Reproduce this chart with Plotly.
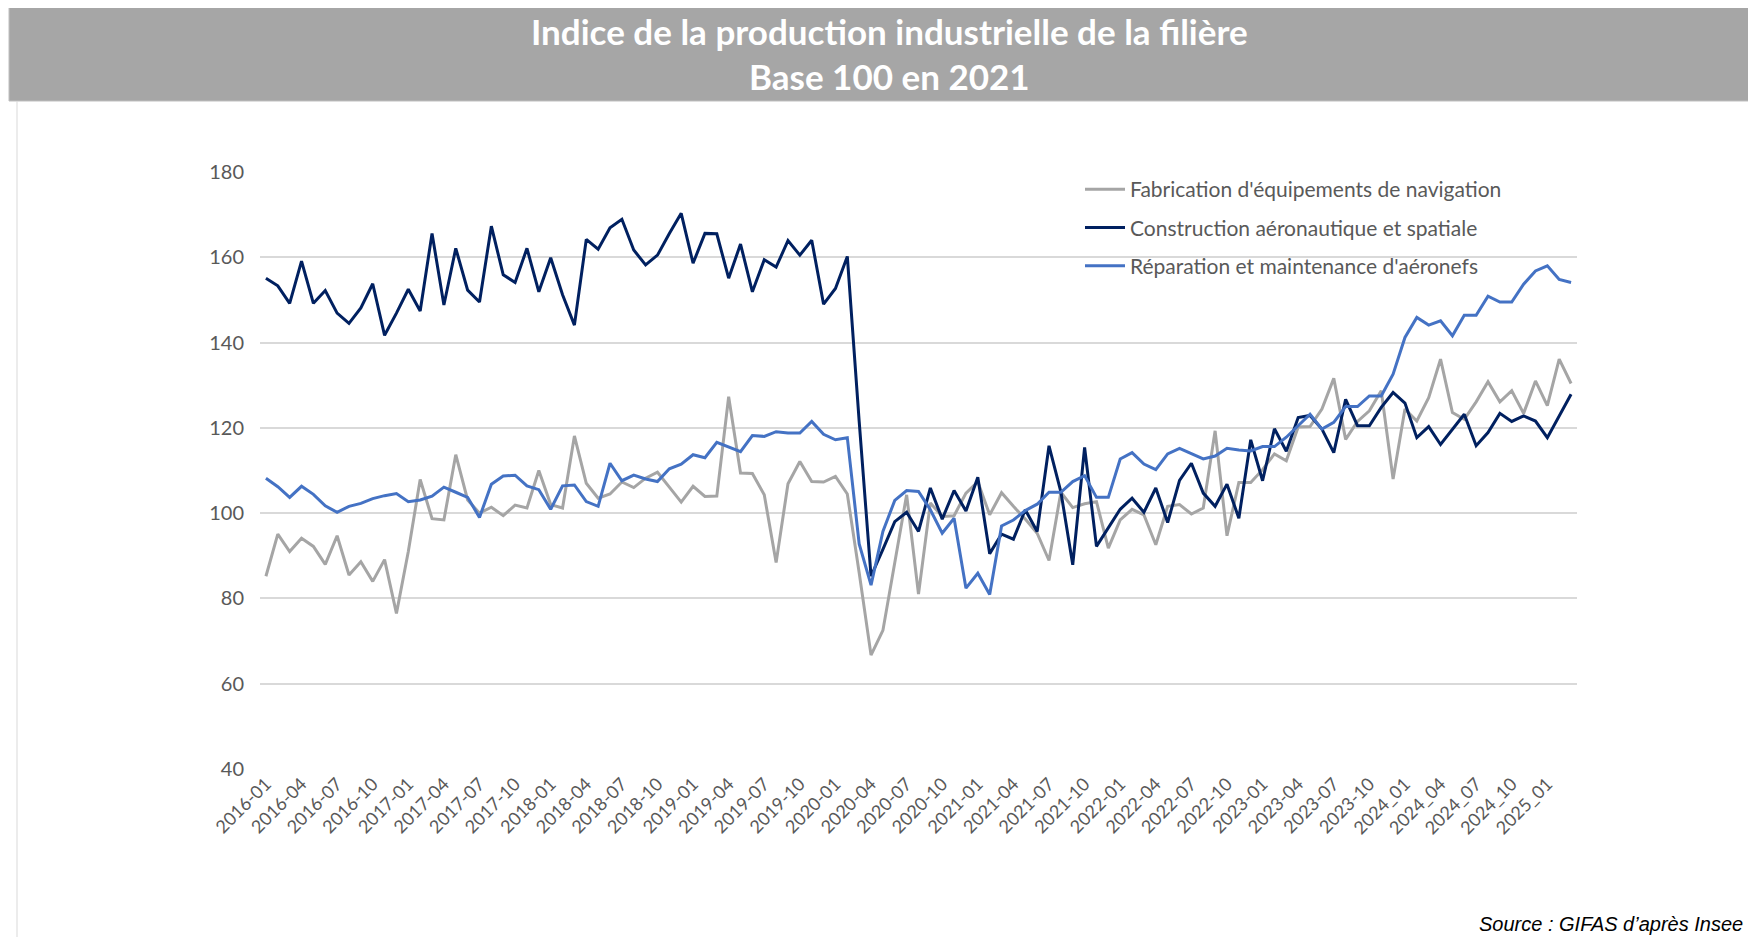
import plotly.graph_objects as go

TITLE_LINE1 = "Indice de la production industrielle de la filière"
TITLE_LINE2 = "Base 100 en 2021"
SOURCE = "Source : GIFAS d’après Insee"

SERIES_NAMES = [
    "Fabrication d'équipements de navigation",
    "Construction aéronautique et spatiale",
    "Réparation et maintenance d'aéronefs",
]

# Monthly categories 2016-01 .. 2025-03
MONTHS = [f"{2016 + i // 12}-{i % 12 + 1:02d}" for i in range(111)]

TICK_LABELS = [
    "2016-01", "2016-04", "2016-07", "2016-10",
    "2017-01", "2017-04", "2017-07", "2017-10",
    "2018-01", "2018-04", "2018-07", "2018-10",
    "2019-01", "2019-04", "2019-07", "2019-10",
    "2020-01", "2020-04", "2020-07", "2020-10",
    "2021-01", "2021-04", "2021-07", "2021-10",
    "2022-01", "2022-04", "2022-07", "2022-10",
    "2023-01", "2023-04", "2023-07", "2023-10",
    "2024_01", "2024_04", "2024_07", "2024_10",
    "2025_01",
]

fabrication = [
    85.2, 95.1, 91.0, 94.1, 92.2, 88.0, 94.7, 85.5, 88.6, 84.0, 89.1, 76.5,
    91.0, 107.9, 98.7, 98.4, 113.7, 103.1, 100.0, 101.4, 99.4, 101.9, 101.2, 110.0,
    102.0, 101.2, 118.1, 107.0, 103.5, 104.5, 107.3, 106.0, 108.2, 109.6, 106.1, 102.6,
    106.3, 103.9, 104.0, 127.3, 109.4, 109.3, 104.3, 88.4, 106.9, 112.1, 107.4, 107.3,
    108.6, 104.5, 86.0, 66.7, 72.5, 88.4, 104.3, 81.0, 102.4, 99.2, 99.4, 104.7,
    107.4, 99.6, 104.8, 101.6, 98.6, 95.3, 88.9, 104.9, 101.3, 102.2, 102.7, 91.8,
    98.4, 100.9, 99.6, 92.6, 101.6, 102.0, 99.8, 101.2, 119.3, 94.7, 107.2, 107.2,
    110.2, 113.9, 112.3, 120.2, 120.3, 124.4, 131.6, 117.3, 121.5, 124.0, 128.7, 108.0,
    124.4, 121.6, 127.1, 136.1, 123.6, 122.0, 126.1, 130.8, 126.1, 128.7, 123.4, 131.0,
    125.2, 136.1, 130.4,
]

construction = [
    155.1, 153.3, 149.2, 159.1, 149.2, 152.2, 146.9, 144.5, 148.1, 153.8, 141.7, 146.9,
    152.5, 147.4, 165.6, 148.8, 162.1, 152.3, 149.5, 167.3, 155.9, 154.1, 162.1, 151.9,
    159.9, 151.2, 144.1, 164.2, 161.9, 166.9, 168.9, 161.7, 158.2, 160.5, 165.6, 170.3,
    158.6, 165.6, 165.5, 155.1, 163.1, 151.9, 159.4, 157.7, 163.9, 160.5, 164.0, 149.0,
    152.7, 160.2, 121.5, 85.2, 91.5, 98.0, 100.2, 95.7, 105.9, 98.6, 105.3, 100.5,
    108.4, 90.5, 95.1, 93.9, 100.8, 95.7, 115.8, 105.0, 87.9, 115.4, 92.2, 96.6,
    100.9, 103.5, 100.2, 105.9, 97.8, 107.7, 111.7, 104.7, 101.6, 106.8, 98.8, 117.2,
    107.6, 119.8, 114.5, 122.4, 122.9, 119.7, 114.2, 126.7, 120.5, 120.5, 124.8, 128.3,
    125.8, 117.7, 120.3, 116.1, 119.7, 123.2, 115.8, 118.9, 123.4, 121.5, 122.8, 121.6,
    117.7, 122.8, 127.9,
]

reparation = [
    108.2, 106.2, 103.7, 106.3, 104.4, 101.7, 100.2, 101.6, 102.3, 103.4, 104.1, 104.6,
    102.7, 103.1, 104.0, 106.1, 104.9, 103.7, 99.0, 106.8, 108.7, 108.9, 106.4, 105.5,
    100.9, 106.4, 106.6, 102.7, 101.6, 111.7, 107.6, 108.9, 108.0, 107.4, 110.4, 111.5,
    113.7, 113.0, 116.6, 115.5, 114.4, 118.2, 118.0, 119.1, 118.8, 118.8, 121.5, 118.5,
    117.2, 117.7, 92.8, 83.1, 95.7, 103.0, 105.3, 105.1, 100.8, 95.3, 98.8, 82.4,
    85.9, 80.9, 97.0, 98.4, 100.6, 102.1, 104.9, 104.9, 107.4, 108.8, 103.7, 103.7,
    112.7, 114.2, 111.5, 110.2, 113.9, 115.2, 113.9, 112.7, 113.4, 115.2, 114.8, 114.6,
    115.6, 115.6, 117.8, 120.5, 123.2, 119.7, 121.3, 125.0, 125.0, 127.5, 127.5, 132.6,
    141.2, 145.9, 144.1, 145.1, 141.6, 146.4, 146.4, 150.9, 149.5, 149.5, 153.7, 156.8,
    158.0, 154.8, 154.1,
]

COLORS = ["#a5a5a5", "#002060", "#4472c4"]
FONT = "Lato"
TXT = "#595959"

OFF = 8  # page body offset
W, H = 1756 - 2 * OFF, 947 - 2 * OFF - 2
# desired page-pixel edges of plot area
PX0, PX1, PY0, PY1 = 260, 1577, 172, 769
L, R, T, B = PX0 - OFF, W - (PX1 - OFF), PY0 - OFF, H - (PY1 - OFF)
PW, PH = W - L - R, H - T - B


def px(x):
    return (x - OFF - L) / PW


def py(y):
    return 1 - (y - OFF - T) / PH


fig = go.Figure()
for i, (name, vals) in enumerate(zip(SERIES_NAMES, [fabrication, construction, reparation])):
    fig.add_trace(go.Scatter(
        x=MONTHS, y=vals, name=name, mode="lines",
        line=dict(color=COLORS[i], width=3),
        legendgroup=f"g{i}",
    ))

fig.update_layout(
    width=W, height=H, autosize=False,
    margin=dict(l=L, r=R, t=T, b=B, pad=0),
    paper_bgcolor="white", plot_bgcolor="white",
    font=dict(family=FONT, color=TXT),
    showlegend=True,
    legend=dict(
        x=px(1080), y=py(169),
        xanchor="left", yanchor="top",
        font=dict(size=21, color=TXT, family=FONT),
        bgcolor="rgba(0,0,0,0)",
        tracegroupgap=8,
        itemwidth=40,
    ),
    xaxis=dict(
        type="category",
        tickmode="array",
        tickvals=MONTHS[::3],
        ticktext=TICK_LABELS,
        tickangle=-45,
        tickfont=dict(size=18, color=TXT, family=FONT),
        showgrid=False, zeroline=False, showline=False,
        ticks="",
        range=[-0.5, len(MONTHS) - 0.5],
    ),
    yaxis=dict(
        range=[40, 180],
        tickvals=[40, 60, 80, 100, 120, 140, 160, 180],
        tickfont=dict(size=20, color=TXT, family=FONT),
        showgrid=True, gridcolor="#d9d9d9", gridwidth=1.5,
        zeroline=False, showline=False, ticks="",
        ticklabelstandoff=15,
    ),
)

# Title bar
fig.add_shape(type="rect", xref="paper", yref="paper",
              x0=px(9), x1=px(1760), y0=py(101), y1=py(5),
              fillcolor="#a6a6a6", line=dict(color="#bfbfbf", width=1), layer="below")
# Left border line
fig.add_shape(type="line", xref="paper", yref="paper",
              x0=px(17), x1=px(17), y0=py(950), y1=py(101),
              line=dict(color="#d9d9d9", width=1))

fig.add_annotation(text=f"<b>{TITLE_LINE1}</b>", xref="paper", yref="paper",
                   x=px(889), y=py(31),
                   showarrow=False, xanchor="center", yanchor="middle",
                   font=dict(size=35, color="white", family=FONT))
fig.add_annotation(text=f"<b>{TITLE_LINE2}</b>", xref="paper", yref="paper",
                   x=px(889), y=py(76),
                   showarrow=False, xanchor="center", yanchor="middle",
                   font=dict(size=35, color="white", family=FONT))
fig.add_annotation(text=f"<i>{SOURCE}</i>", xref="paper", yref="paper",
                   x=px(1745), y=py(924),
                   showarrow=False, xanchor="right", yanchor="middle",
                   font=dict(size=20, color="black", family="Liberation Sans"))

fig.write_html("out.html")
